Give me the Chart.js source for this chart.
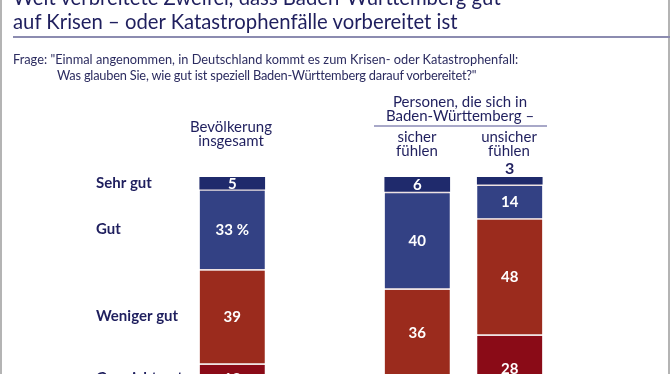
<!DOCTYPE html>
<html lang="de">
<head>
<meta charset="UTF-8">
<title>Krisenvorsorge Baden-Württemberg</title>
<script src="https://cdn.jsdelivr.net/npm/chart.js"></script>
<style>
    body { margin: 0; background: #fff; }
    #wrap {
        position: relative; width: 670px; height: 374px; overflow: hidden;
        font-family: Lato, "Open Sans", sans-serif; color: #1f1f5e;
    }
    #wrap .edge { position: absolute; top: 0; bottom: 0; width: 2px; background: #b4b4b4; }
    #chart { position: absolute; left: 0; top: 0; }
    .txt { position: absolute; white-space: nowrap; }
    #title { left: 13px; top: -15px; font-size: 20.3px; line-height: 24px; }
    #rule { position: absolute; left: 13px; right: 0; top: 36px; height: 1.5px; background: #8c8cb0; }
    #frage { left: 13px; top: 51px; font-size: 12.8px; line-height: 16px; color: #2c2c60; }
    #frage span { padding-left: 44px; letter-spacing: -0.2px; }
    .head { font-size: 15px; line-height: 14px; text-align: center; transform: translateX(-50%); }
    #subrule { position: absolute; left: 374px; width: 173px; top: 125px; height: 1.5px; background: #a8a8c8; }
</style>
</head>
<body>
<div id="wrap">
    <canvas id="chart" width="670" height="374"></canvas>
    <div class="edge" style="left:0"></div>
    <div class="edge" style="right:0"></div>
    <div id="title" class="txt">Weit verbreitete Zweifel, dass Baden-Württemberg gut<br>auf Krisen – oder Katastrophenfälle vorbereitet ist</div>
    <div id="rule"></div>
    <div id="frage" class="txt">Frage: "Einmal angenommen, in Deutschland kommt es zum Krisen- oder Katastrophenfall:<br><span>Was glauben Sie, wie gut ist speziell Baden-Württemberg darauf vorbereitet?"</span></div>
    <div class="txt head" style="left:231px; top:119px">Bevölkerung<br>insgesamt</div>
    <div class="txt head" style="left:460px; top:94px">Personen, die sich in<br>Baden-Württemberg –</div>
    <div id="subrule"></div>
    <div class="txt head" style="left:417px; top:129px">sicher<br>fühlen</div>
    <div class="txt head" style="left:509px; top:129px">unsicher<br>fühlen</div>
</div>

<script>
    // groups (the empty slot keeps the gap between the total and the two subgroups)
    const groups = ['Bevölkerung insgesamt', '', 'sicher fühlen', 'unsicher fühlen'];
    const ratings = ['Sehr gut', 'Gut', 'Weniger gut', 'Gar nicht gut'];
    const sehrGut = [5, null, 6, 3];
    const gut = [33, null, 40, 14];
    const wenigerGut = [39, null, 36, 48];
    const garNichtGut = [12, null, 11, 28];
    const colors = ['#1f2a6c', '#334184', '#9b2b1d', '#8a0b17'];

    const navy = '#1f1f5e';
    const sep = '#eee2e2';

    const valueLabels = {
        id: 'valueLabels',
        afterDatasetsDraw(chart) {
            const ctx = chart.ctx;
            ctx.save();
            ctx.textAlign = 'center';
            ctx.textBaseline = 'middle';
            chart.data.datasets.forEach((ds, di) => {
                const meta = chart.getDatasetMeta(di);
                meta.data.forEach((bar, i) => {
                    const v = ds.data[i];
                    if (v === null) return;
                    let text = String(v);
                    if (di === 1 && i === 0) text = v + ' %';
                    if (v < 4) {
                        // too small to hold its number: put it above the bar
                        ctx.font = 'bold 16px Lato';
                        ctx.fillStyle = navy;
                        ctx.fillText(text, bar.x, Math.min(bar.y, bar.base) - 8);
                    } else {
                        ctx.font = 'bold 15px Lato';
                        ctx.fillStyle = '#ffffff';
                        ctx.fillText(text, bar.x, (bar.y + bar.base) / 2 + 1);
                    }
                });
                // rating names beside the first bar
                const first = meta.data[0];
                ctx.fillStyle = navy;
                ctx.font = 'bold 15px Lato';
                ctx.textAlign = 'left';
                ctx.fillText(ratings[di], 96, (first.y + first.base) / 2);
                ctx.textAlign = 'center';
            });
            ctx.restore();
        }
    };

    const series = [sehrGut, gut, wenigerGut, garNichtGut];

    new Chart(document.getElementById('chart'), {
        type: 'bar',
        data: {
            labels: groups,
            datasets: series.map((data, i) => ({
                label: ratings[i],
                data: data,
                backgroundColor: colors[i],
                borderColor: sep,
                borderWidth: i === 0 ? 0 : { top: 2, bottom: 0, left: 0, right: 0 },
                borderSkipped: false,
                barThickness: 65
            }))
        },
        options: {
            responsive: false,
            animation: false,
            layout: { padding: { left: 186, right: 114, top: 177, bottom: 0 } },
            plugins: { legend: { display: false }, tooltip: { enabled: false } },
            scales: {
                x: { stacked: true, display: false },
                y: { stacked: true, display: false, reverse: true, min: 0, max: 81.4 }
            }
        },
        plugins: [valueLabels]
    });
</script>
</body>
</html>
